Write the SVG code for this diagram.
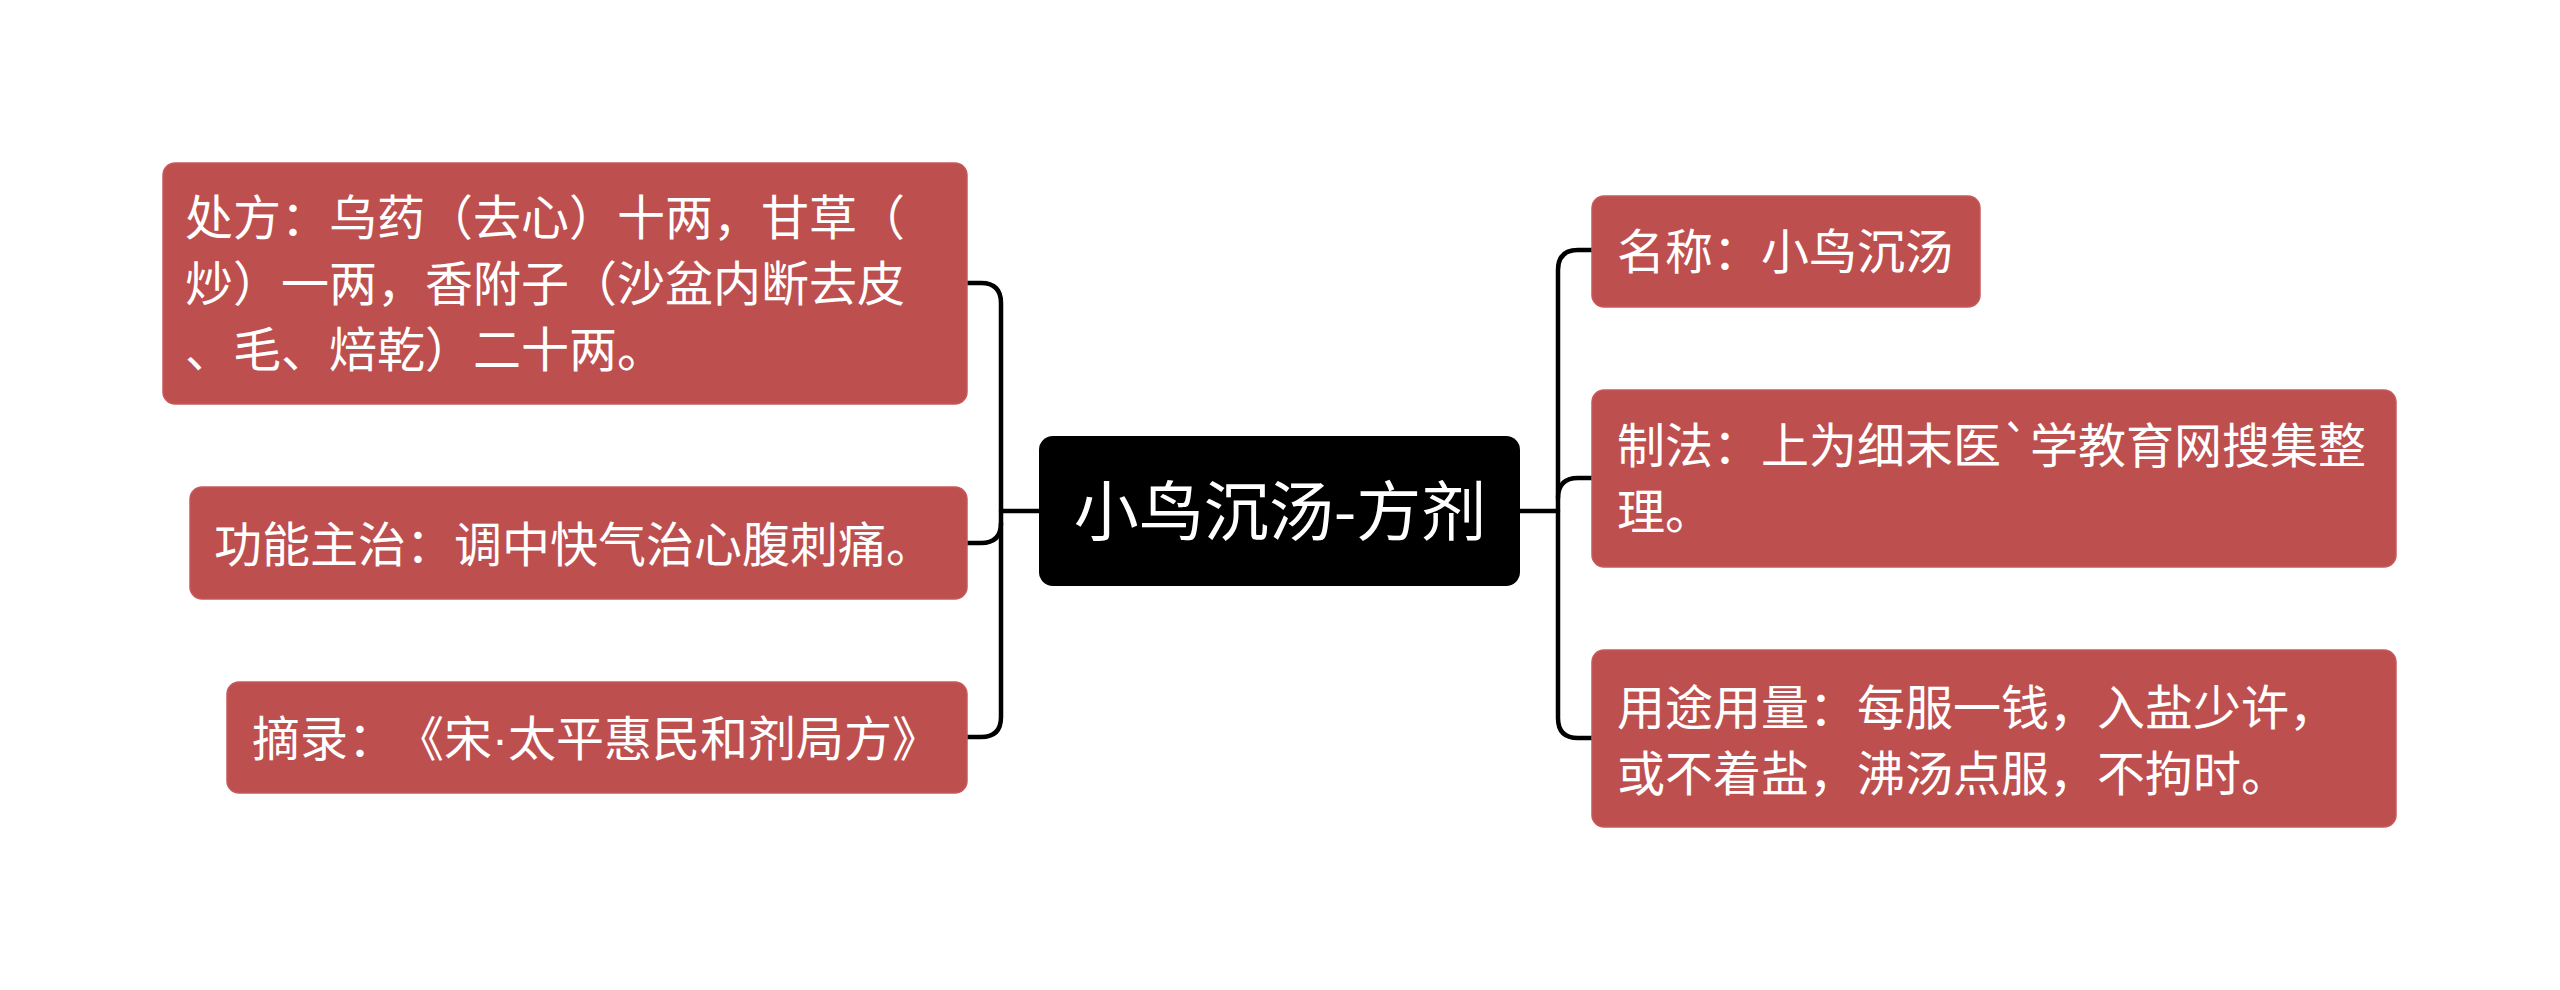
<svg xmlns="http://www.w3.org/2000/svg" width="2560" height="990" viewBox="0 0 2560 990">
<style>
.node rect.box{fill:#BE4F4F;stroke:#C85A5A;stroke-width:1.5}
.node text{font-family:"Noto Sans CJK SC","Noto Sans",sans-serif;font-size:48px;fill:#FFFFFF;text-spacing-trim:space-all}
.node tspan.dot{font-family:"Liberation Sans","Noto Sans",sans-serif}
#center rect{fill:#000000}
#center text{font-family:"Noto Sans CJK SC","Noto Sans",sans-serif;font-size:65px;fill:#FFFFFF}
.conn path{fill:none;stroke:#000000;stroke-width:4.5;stroke-linecap:round;stroke-linejoin:round}
</style>
<rect width="2560" height="990" fill="#FFFFFF"/>
<g id="connectors" class="conn">
<path d="M1040 511 H1001"/>
<path d="M967 283 H981 Q1001 283 1001 303 V717 Q1001 737 981 737 H967"/>
<path d="M1001 523 Q1001 543 981 543 H967"/>
<path d="M1520 511 H1558"/>
<path d="M1592 250 H1578 Q1558 250 1558 270 V718 Q1558 738 1578 738 H1592"/>
<path d="M1558 498 Q1558 478 1578 478 H1592"/>
</g>
<g id="center">
<rect x="1039" y="436" width="481" height="150" rx="14" ry="14"/>
<text x="1280" y="535" text-anchor="middle">小鸟沉汤-方剂</text>
</g>
<g id="node-chufang" class="node">
<rect class="box" x="163" y="163" width="804" height="241" rx="12" ry="12"/>
<text x="185" y="235">处方：乌药（去心）十两，甘草（</text>
<text x="185" y="301">炒）一两，香附子（沙盆内断去皮</text>
<text x="185" y="367">、毛、焙乾）二十两。</text>
</g>
<g id="node-gongneng" class="node">
<rect class="box" x="190" y="487" width="777" height="112" rx="12" ry="12"/>
<text x="214" y="562">功能主治：调中快气治心腹刺痛。</text>
</g>
<g id="node-zhailu" class="node">
<rect class="box" x="227" y="682" width="740" height="111" rx="12" ry="12"/>
<text x="252" y="756">摘录：《宋<tspan class="dot">·</tspan>太平惠民和剂局方》</text>
</g>
<g id="node-mingcheng" class="node">
<rect class="box" x="1592" y="196" width="388" height="111" rx="12" ry="12"/>
<text x="1617" y="269">名称：小鸟沉汤</text>
</g>
<g id="node-zhifa" class="node">
<rect class="box" x="1592" y="390" width="804" height="177" rx="12" ry="12"/>
<text x="1617" y="463">制法：上为细末医`学教育网搜集整</text>
<text x="1617" y="529">理。</text>
</g>
<g id="node-yongtu" class="node">
<rect class="box" x="1592" y="650" width="804" height="177" rx="12" ry="12"/>
<text x="1617" y="725">用途用量：每服一钱，入盐少许，</text>
<text x="1617" y="791">或不着盐，沸汤点服，不拘时。</text>
</g>
</svg>
